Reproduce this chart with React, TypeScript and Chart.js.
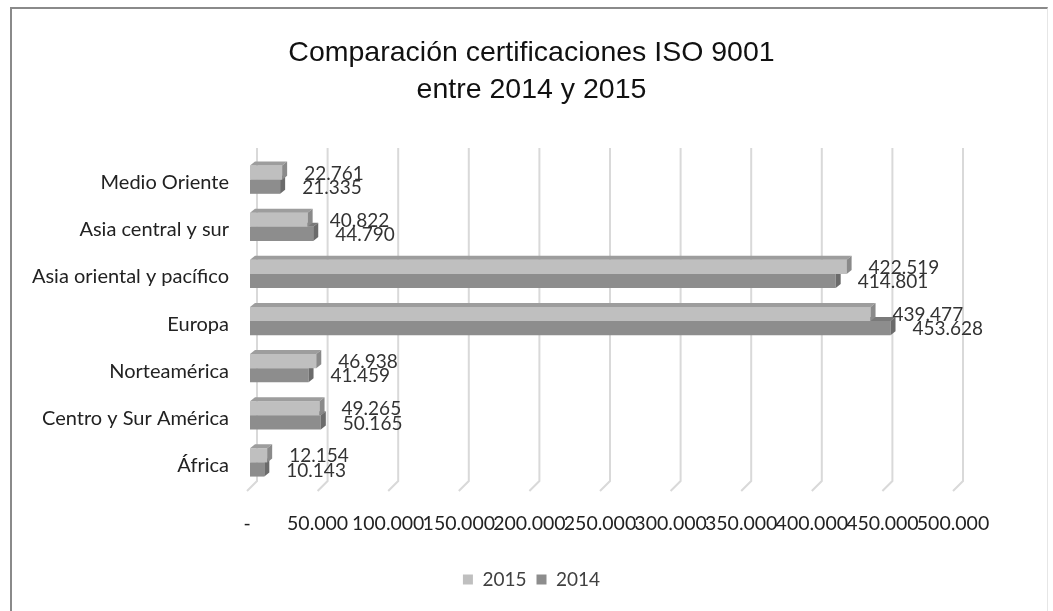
import React, { useEffect, useRef } from "react";
import { Chart, registerables } from "chart.js";

Chart.register(...registerables);

const categories = [
  "Medio Oriente",
  "Asia central y sur",
  "Asia oriental y pacífico",
  "Europa",
  "Norteamérica",
  "Centro y Sur América",
  "África",
];
const series2015 = [22761, 40822, 422519, 439477, 46938, 49265, 12154];
const series2014 = [21335, 44790, 414801, 453628, 41459, 50165, 10143];
const seriesNames = ["2015", "2014"];
const tickValues = [0, 50000, 100000, 150000, 200000, 250000, 300000, 350000, 400000, 450000, 500000];

const FONT = "Lato, 'Noto Sans', sans-serif";

function fmt(v: number): string {
  if (v === 0) return "-";
  const s = Math.round(v).toString();
  return s.replace(/\B(?=(\d{3})+(?!\d))/g, ".");
}

const faceColors = [
  { front: "#bfbfbf", top: "#9d9d9d", side: "#8a8a8a" },
  { front: "#8d8d8d", top: "#7a7a7a", side: "#6b6b6b" },
];
const DX = 5;
const DY = 4;

const gridPlugin = {
  id: "grid3d",
  beforeDatasetsDraw(chart: any) {
    const x = chart.scales.x;
    const ctx = chart.ctx;
    ctx.save();
    ctx.strokeStyle = "#d9d9d9";
    ctx.lineWidth = 2;
    for (const v of tickValues) {
      const px = x.getPixelForValue(v) + 7;
      ctx.beginPath();
      ctx.moveTo(px, 148);
      ctx.lineTo(px, 481);
      ctx.lineTo(px - 10, 491);
      ctx.stroke();
    }
    ctx.restore();
  },
  afterDatasetDraw(chart: any, args: any) {
    const ctx = chart.ctx;
    const c = faceColors[args.index];
    ctx.save();
    for (const el of args.meta.data) {
      const x0 = el.base;
      const x1 = el.x;
      const yt = el.y - el.height / 2;
      const yb = el.y + el.height / 2;
      ctx.fillStyle = c.top;
      ctx.beginPath();
      ctx.moveTo(x0, yt);
      ctx.lineTo(x1, yt);
      ctx.lineTo(x1 + DX, yt - DY);
      ctx.lineTo(x0 + DX, yt - DY);
      ctx.closePath();
      ctx.fill();
      ctx.fillStyle = c.side;
      ctx.beginPath();
      ctx.moveTo(x1, yt);
      ctx.lineTo(x1 + DX, yt - DY);
      ctx.lineTo(x1 + DX, yb - DY);
      ctx.lineTo(x1, yb);
      ctx.closePath();
      ctx.fill();
    }
    ctx.restore();
  },
  afterDatasetsDraw(chart: any) {
    const ctx = chart.ctx;
    ctx.save();
    ctx.font = `19px ${FONT}`;
    ctx.fillStyle = "#333333";
    ctx.textAlign = "left";
    ctx.textBaseline = "middle";
    chart.data.datasets.forEach((ds: any, i: number) => {
      const meta = chart.getDatasetMeta(i);
      meta.data.forEach((el: any, j: number) => {
        ctx.fillText(fmt(ds.data[j]), el.x + 22, el.y + 1);
      });
    });
    ctx.restore();
  },
};

export default function App() {
  const ref = useRef<HTMLCanvasElement>(null);
  useEffect(() => {
    document.body.style.margin = "0";
    const chart = new Chart(ref.current as HTMLCanvasElement, {
      type: "bar",
      data: {
        labels: categories,
        datasets: [
          { label: seriesNames[0], data: series2015, backgroundColor: faceColors[0].front, borderWidth: 0 },
          { label: seriesNames[1], data: series2014, backgroundColor: faceColors[1].front, borderWidth: 0 },
        ],
      },
      options: {
        indexAxis: "y",
        responsive: false,
        animation: false,
        events: [],
        datasets: { bar: { categoryPercentage: 0.6, barPercentage: 1.0 } },
        layout: { padding: { top: 10, right: 0, bottom: 12, left: 10 } },
        scales: {
          x: {
            min: 0,
            max: 500000,
            afterBuildTicks: (scale: any) => {
              scale.ticks = tickValues.map((v) => ({ value: v }));
            },
            afterFit: (scale: any) => {
              scale.height = 74;
            },
            grid: { display: false, drawTicks: false },
            border: { display: false },
            ticks: {
              autoSkip: false,
              maxRotation: 0,
              minRotation: 0,
              padding: 26,
              labelOffset: -3,
              color: "#222222",
              font: { family: FONT, size: 19.5 },
              callback: (v: any) => fmt(Number(v)),
            },
          },
          y: {
            afterFit: (scale: any) => {
              scale.width = 240;
            },
            grid: { display: false, drawTicks: false },
            border: { display: false },
            ticks: {
              padding: 21,
              labelOffset: 3,
              color: "#222222",
              font: { family: FONT, size: 20 },
            },
          },
          y2: {
            type: "category",
            position: "right",
            labels: categories,
            afterFit: (scale: any) => {
              scale.width = 97;
            },
            grid: { display: false, drawTicks: false },
            border: { display: false },
            ticks: { display: false },
          },
        },
        plugins: {
          title: {
            display: true,
            text: ["Comparación certificaciones ISO 9001", "entre 2014 y 2015"],
            color: "#111111",
            font: { family: "'Liberation Sans', Arial, sans-serif", size: 28.5, weight: "normal", lineHeight: 1.3 },
            padding: { top: 25, bottom: 47 },
          },
          legend: {
            position: "bottom",
            labels: {
              boxWidth: 10,
              boxHeight: 10,
              color: "#404040",
              font: { family: FONT, size: 19 },
            },
          },
          tooltip: { enabled: false },
        },
      },
      plugins: [gridPlugin],
    } as any);
    return () => chart.destroy();
  }, []);
  return (
    <div style={{ position: "relative", width: 1053, height: 611, overflow: "hidden", background: "#fff" }}>
      <div
        style={{
          position: "absolute",
          left: 10,
          top: 7,
          width: 1035,
          height: 700,
          borderLeft: "2px solid #8a8a8a",
          borderTop: "2px solid #8a8a8a",
          borderRight: "1px solid #e6e6e6",
        }}
      />
      <canvas ref={ref} width={1053} height={611} style={{ position: "absolute", left: 0, top: 0, width: 1053, height: 611 }} />
    </div>
  );
}
